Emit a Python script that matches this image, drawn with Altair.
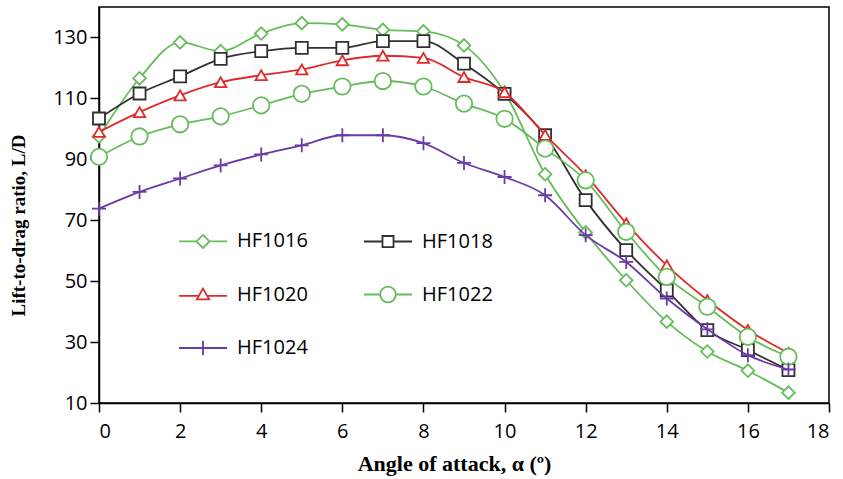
import altair as alt
import pandas as pd

angle = list(range(18))
names = ["HF1016", "HF1018", "HF1020", "HF1022", "HF1024"]

hf1016 = [97.5, 116.6, 128.4, 125.5, 131.3, 134.7, 134.3, 132.5, 132.0, 127.4, 112.0, 85.1, 66.0, 50.3, 36.7, 26.9, 20.6, 13.4]
hf1018 = [103.4, 111.6, 117.2, 123.0, 125.5, 126.6, 126.6, 128.8, 128.8, 121.4, 111.5, 97.9, 76.6, 60.2, 47.0, 33.9, 27.4, 20.8]
hf1020 = [99.0, 105.5, 111.0, 115.3, 117.6, 119.5, 122.5, 124.0, 123.3, 117.0, 112.0, 98.0, 84.8, 69.0, 55.2, 43.8, 34.0, 26.4]
hf1022 = [90.8, 97.5, 101.5, 104.1, 107.7, 111.5, 113.9, 115.7, 113.9, 108.3, 103.3, 93.5, 83.1, 66.2, 51.4, 41.6, 31.7, 25.2]
hf1024 = [73.8, 79.3, 83.7, 88.0, 91.6, 94.6, 97.9, 97.9, 95.3, 88.8, 84.2, 78.2, 65.1, 56.3, 44.3, 34.2, 25.7, 21.0]

series_values = [hf1016, hf1018, hf1020, hf1022, hf1024]
colors = ["#66BC5A", "#303030", "#DD2B2B", "#66BC5A", "#6A3AA6"]
point_shapes = ["diamond", "square", "triangle-up", "circle", "M-1,0L1,0M0,-1L0,1"]
point_sizes = [160, 144, 130, 270, 196]

legend_shapes = [
    "M-3.7,0L-1,0M1,0L3.7,0M0,-1L1,0L0,1L-1,0Z",
    "M-3.7,0L-0.85,0M0.85,0L3.7,0M-0.85,-0.85L0.85,-0.85L0.85,0.85L-0.85,0.85Z",
    "M-3.7,0.2L-0.75,0.2M0.75,0.2L3.7,0.2M0,-0.9L0.95,0.75L-0.95,0.75Z",
    "M-3.7,0L-1.2,0M1.2,0L3.7,0M1.2,0A1.2,1.2,0,1,1,-1.2,0A1.2,1.2,0,1,1,1.2,0Z",
    "M-3.7,0L3.7,0M0,-1.1L0,1.1",
]

rows = []
for name, vals in zip(names, series_values):
    for a, v in zip(angle, vals):
        rows.append({"angle": a, "ld": v, "series": name})
df = pd.DataFrame(rows)

color_scale = alt.Scale(domain=names, range=colors)

x_enc = alt.X(
    "angle:Q",
    scale=alt.Scale(domain=[0, 18], nice=False),
    axis=alt.Axis(
        values=list(range(0, 19, 2)),
        title="Angle of attack, α (º)",
        labelPadding=9, titleFontSize=22,
        titleX=355, titleY=60, titleAlign="center", titleBaseline="middle",
    ),
)
y_enc = alt.Y(
    "ld:Q",
    scale=alt.Scale(domain=[10, 140], nice=False),
    axis=alt.Axis(
        values=list(range(10, 131, 20)),
        title="Lift-to-drag ratio, L/D",
        labelPadding=3, titleFontSize=19,
        titleX=-81, titleY=218, titleAngle=-90, titleAlign="center", titleBaseline="middle",
    ),
)

legend_cfg = alt.Legend(
    orient="none", legendX=94, legendY=224, columns=2, direction="horizontal", title=None,
    labelFont="Open Sans", labelFontSize=20, labelColor="black",
    symbolSize=169, symbolStrokeWidth=1.8, symbolOpacity=1,
    columnPadding=52, rowPadding=30.5, labelOffset=24, symbolOffset=0,
    padding=0,
)
legend_layer = alt.Chart(df).mark_point(
    filled=False, size=169, strokeWidth=1.8, opacity=0
).encode(
    x=x_enc, y=y_enc,
    stroke=alt.Stroke("series:N", scale=alt.Scale(domain=names, range=colors), legend=legend_cfg),
    shape=alt.Shape("series:N", scale=alt.Scale(domain=names, range=legend_shapes), legend=legend_cfg),
)
layers = [legend_layer]

for name, shp, sz in zip(names, point_shapes, point_sizes):
    base = alt.Chart(df).transform_filter(alt.datum.series == name)
    line = base.mark_line(interpolate="monotone", strokeWidth=1.8).encode(
        x=x_enc, y=y_enc,
        color=alt.Color("series:N", scale=color_scale, legend=None),
    )
    pts = base.mark_point(filled=False, fill="white", fillOpacity=1, opacity=1,
                          size=sz, strokeWidth=1.8).encode(
        x=x_enc, y=y_enc,
        color=alt.Color("series:N", scale=color_scale, legend=None),
        shape=alt.value(shp),
    )
    layers += [line, pts]

chart = alt.layer(*layers).properties(
    width=730, height=396,
    autosize=alt.AutoSizeParams(type="none"),
    padding={"left": 99, "top": 7, "right": 14, "bottom": 76},
).configure_view(
    stroke="black", strokeWidth=1.5
).configure_axis(
    grid=False, domainColor="black", domainWidth=1.5, tickColor="black", tickWidth=1.5,
    tickSize=9, labelFont="Open Sans", labelFontSize=20, labelColor="black",
    titleFont="Liberation Serif", titleFontWeight="bold", titleColor="black",
)

chart.save("out.html", embed_options={"renderer": "svg", "actions": False})
